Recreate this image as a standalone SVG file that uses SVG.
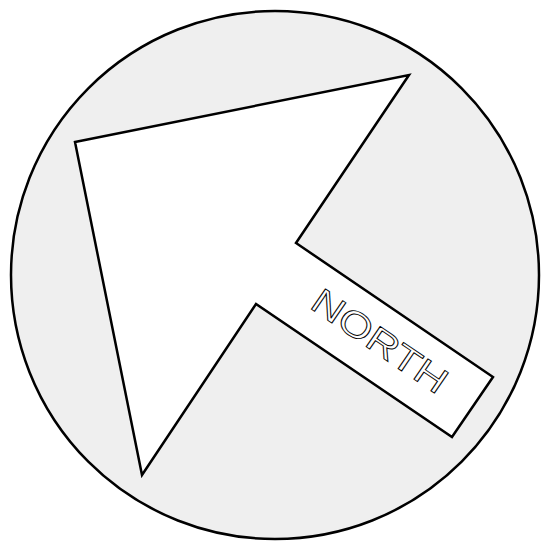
<svg xmlns="http://www.w3.org/2000/svg" width="550" height="550" viewBox="0 0 550 550">
<style>
.ln{stroke:#000;stroke-width:2.5;stroke-linejoin:miter}
.lbl{font-family:"Liberation Sans","DejaVu Sans",sans-serif;font-size:36px;fill:#fff;stroke:#000;stroke-width:0.9;text-anchor:middle;dominant-baseline:central}
</style>
<rect width="550" height="550" fill="#fff"/>
<g id="dial">
<circle class="ln" cx="275" cy="275" r="264" fill="#efefef"/>
</g>
<g id="arrow">
<polygon class="ln" fill="#fff" points="75,142 409,75 296,243 493,377 452,437 256,304 142,475"/>
<text class="lbl" transform="translate(380,341) rotate(34.3)" textLength="156" lengthAdjust="spacingAndGlyphs">NORTH</text>
</g>
</svg>
